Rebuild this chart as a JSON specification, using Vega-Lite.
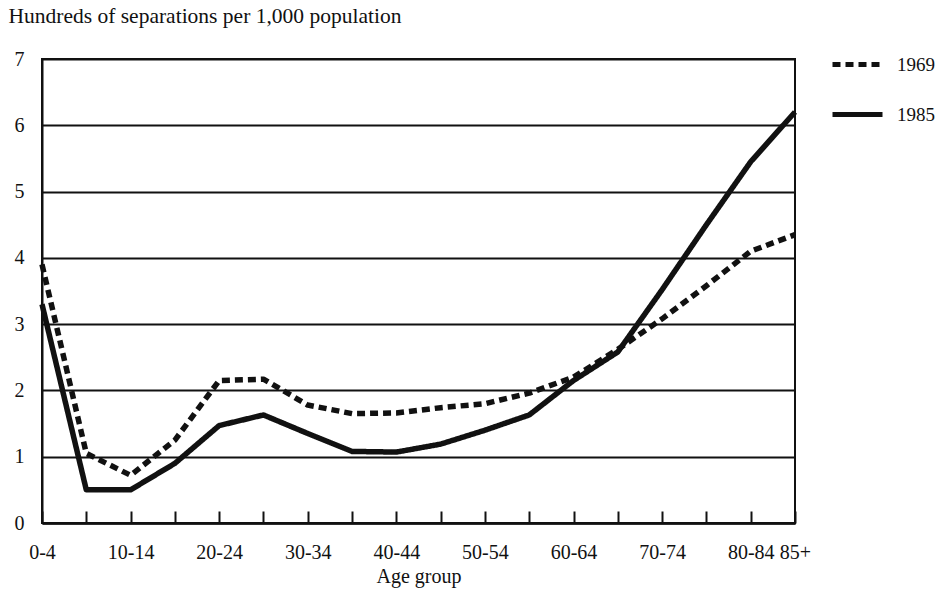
{
  "$schema": "https://vega.github.io/schema/vega-lite/v6.json",
  "autosize": "none",
  "width": 753,
  "height": 464,
  "padding": {"left": 42, "top": 59, "right": 157, "bottom": 79},
  "background": "white",
  "config": {
    "font": "Liberation Serif",
    "view": {"stroke": "#111", "strokeWidth": 2},
    "axis": {"labelFont": "Liberation Serif", "titleFont": "Liberation Serif", "labelColor": "#111", "titleColor": "#111", "titleFontWeight": "normal"}
  },
  "data": {
    "values": [
      {"age": "0-4", "year": "1969", "value": 3.9},
      {"age": "5-9", "year": "1969", "value": 1.05},
      {"age": "10-14", "year": "1969", "value": 0.72},
      {"age": "15-19", "year": "1969", "value": 1.25},
      {"age": "20-24", "year": "1969", "value": 2.15},
      {"age": "25-29", "year": "1969", "value": 2.17},
      {"age": "30-34", "year": "1969", "value": 1.78},
      {"age": "35-39", "year": "1969", "value": 1.65},
      {"age": "40-44", "year": "1969", "value": 1.66},
      {"age": "45-49", "year": "1969", "value": 1.74},
      {"age": "50-54", "year": "1969", "value": 1.8},
      {"age": "55-59", "year": "1969", "value": 1.96},
      {"age": "60-64", "year": "1969", "value": 2.2},
      {"age": "65-69", "year": "1969", "value": 2.62},
      {"age": "70-74", "year": "1969", "value": 3.08},
      {"age": "75-79", "year": "1969", "value": 3.58},
      {"age": "80-84", "year": "1969", "value": 4.1},
      {"age": "85+", "year": "1969", "value": 4.35},
      {"age": "0-4", "year": "1985", "value": 3.3},
      {"age": "5-9", "year": "1985", "value": 0.5},
      {"age": "10-14", "year": "1985", "value": 0.5},
      {"age": "15-19", "year": "1985", "value": 0.9},
      {"age": "20-24", "year": "1985", "value": 1.47},
      {"age": "25-29", "year": "1985", "value": 1.63},
      {"age": "30-34", "year": "1985", "value": 1.35},
      {"age": "35-39", "year": "1985", "value": 1.08},
      {"age": "40-44", "year": "1985", "value": 1.07},
      {"age": "45-49", "year": "1985", "value": 1.19},
      {"age": "50-54", "year": "1985", "value": 1.4},
      {"age": "55-59", "year": "1985", "value": 1.63},
      {"age": "60-64", "year": "1985", "value": 2.15},
      {"age": "65-69", "year": "1985", "value": 2.58},
      {"age": "70-74", "year": "1985", "value": 3.52},
      {"age": "75-79", "year": "1985", "value": 4.5},
      {"age": "80-84", "year": "1985", "value": 5.45},
      {"age": "85+", "year": "1985", "value": 6.2}
    ]
  },
  "mark": {"type": "line", "color": "#111", "strokeWidth": 5.5, "strokeCap": "butt", "strokeJoin": "round"},
  "encoding": {
    "x": {
      "field": "age",
      "type": "ordinal",
      "sort": null,
      "scale": {"type": "point", "padding": 0},
      "axis": {
        "title": "Age group",
        "titleFontSize": 20,
        "titlePadding": 4,
        "labelFontSize": 20,
        "labelAngle": 0,
        "labelPadding": 31,
        "labelExpr": "indexof(['0-4','10-14','20-24','30-34','40-44','50-54','60-64','70-74','80-84','85+'], datum.value) >= 0 ? datum.value : ''",
        "labelOverlap": false,
        "domainColor": "#111",
        "domainWidth": 2.5,
        "tickColor": "#111",
        "tickWidth": 2,
        "tickSize": -12,
        "grid": false
      }
    },
    "y": {
      "field": "value",
      "type": "quantitative",
      "scale": {"domain": [0, 7], "nice": false},
      "axis": {
        "title": "Hundreds of separations per 1,000 population",
        "titleAngle": 0,
        "titleAlign": "left",
        "titleBaseline": "alphabetic",
        "titleX": -34,
        "titleY": -37,
        "titleFontSize": 21.5,
        "values": [0, 1, 2, 3, 4, 5, 6, 7],
        "labelFontSize": 20,
        "labelPadding": 18,
        "ticks": false,
        "domainColor": "#111",
        "domainWidth": 2,
        "grid": true,
        "gridColor": "#111",
        "gridWidth": 2,
        "gridOpacity": 1
      }
    },
    "strokeDash": {
      "field": "year",
      "type": "nominal",
      "scale": {"domain": ["1969", "1985"], "range": [[8, 5], [1, 0]]},
      "legend": {
        "title": null,
        "orient": "none",
        "legendX": 788,
        "legendY": -22,
        "symbolType": "stroke",
        "symbolSize": 2500,
        "symbolStrokeWidth": 5,
        "symbolStrokeColor": "#111",
        "labelFontSize": 19,
        "labelColor": "#111",
        "labelOffset": 12,
        "rowPadding": 12
      }
    }
  }
}
